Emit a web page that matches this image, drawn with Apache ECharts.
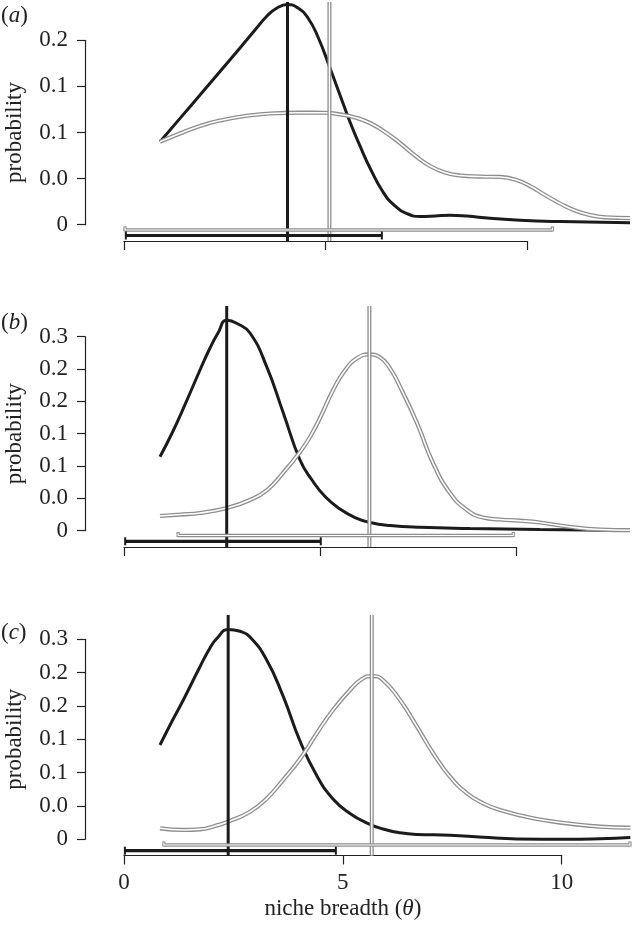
<!DOCTYPE html>
<html>
<head>
<meta charset="utf-8">
<script src="https://cdn.jsdelivr.net/npm/echarts@6/dist/echarts.min.js"></script>
<style>
html,body{margin:0;padding:0;background:#fff;}
#chart{width:632px;height:928px;}
</style>
</head>
<body>
<div id="chart"></div>
<script>
// ---------- data (x = niche breadth, y = probability) ----------
const panelLetters = ['a', 'b', 'c'];
const xTickLabels = ['0', '5', '10'];
const yTickLabelsA = ['0', '0.0', '0.1', '0.1', '0.2'];
const yTickLabelsBC = ['0', '0.0', '0.1', '0.1', '0.2', '0.2', '0.3'];

const blackA = [[0.898,0.0900],[1.394,0.1153],[1.890,0.1407],[2.386,0.1662],[2.882,0.1917],[3.254,0.2112],[3.552,0.2264],[3.800,0.2351],[4.060,0.2388],[4.320,0.2350],[4.568,0.2242],[4.816,0.2036],[5.114,0.1700],[5.362,0.1407],[5.610,0.1114],[5.858,0.0854],[6.106,0.0615],[6.429,0.0355],[6.726,0.0203],[7.049,0.0116],[7.347,0.0089],[7.719,0.0094],[8.091,0.0103],[8.512,0.0094],[9.082,0.0070],[9.826,0.0048],[10.818,0.0034],[12.554,0.0022]];
const grayA = [[0.898,0.0900],[1.394,0.0989],[1.890,0.1071],[2.386,0.1130],[3.006,0.1179],[3.626,0.1206],[4.370,0.1215],[4.990,0.1214],[5.362,0.1196],[5.734,0.1163],[6.106,0.1103],[6.478,0.1005],[6.850,0.0886],[7.222,0.0751],[7.594,0.0637],[7.966,0.0566],[8.338,0.0534],[8.834,0.0522],[9.330,0.0518],[9.702,0.0490],[10.074,0.0419],[10.446,0.0322],[10.818,0.0230],[11.190,0.0154],[11.562,0.0105],[11.934,0.0080],[12.554,0.0071]];
const meansA = [4.06, 5.10];                         // black, gray
const intervalsA = [[0.05, 6.40], [0.03, 10.63]];    // black, gray

const blackB = [[0.918,0.1144],[1.224,0.1507],[1.556,0.1949],[1.939,0.2485],[2.194,0.2825],[2.398,0.3057],[2.620,0.3255],[2.883,0.3204],[3.214,0.3057],[3.640,0.2536],[4.064,0.1820],[4.490,0.1093],[4.796,0.0784],[5.128,0.0529],[5.510,0.0336],[5.893,0.0204],[6.276,0.0127],[6.786,0.0080],[7.551,0.0052],[8.827,0.0034],[10.612,0.0019],[12.908,0.0003]];
const grayB = [[0.918,0.0227],[1.429,0.0250],[1.939,0.0274],[2.628,0.0351],[3.214,0.0475],[3.648,0.0629],[4.056,0.0892],[4.490,0.1217],[4.745,0.1449],[5.000,0.1743],[5.332,0.2171],[5.638,0.2481],[5.944,0.2666],[6.250,0.2725],[6.531,0.2681],[6.786,0.2510],[7.041,0.2227],[7.474,0.1665],[7.883,0.1047],[8.316,0.0583],[8.750,0.0320],[9.158,0.0204],[9.592,0.0173],[10.102,0.0155],[10.612,0.0127],[11.301,0.0065],[12.143,0.0018],[12.908,0.0008]];
const meansB = [2.62, 6.26];
const intervalsB = [[0.03, 5.02], [1.38, 9.93]];

const blackC = [[0.822,0.1414],[1.097,0.1770],[1.355,0.2090],[1.736,0.2589],[1.965,0.2870],[2.125,0.3015],[2.376,0.3147],[2.650,0.3120],[2.879,0.3035],[3.260,0.2689],[3.640,0.2139],[4.021,0.1474],[4.409,0.0950],[4.775,0.0604],[5.163,0.0387],[5.552,0.0244],[5.917,0.0154],[6.306,0.0097],[6.694,0.0072],[7.448,0.0062],[8.202,0.0030],[8.979,0.0005],[10.121,0.0000],[10.875,0.0009],[11.568,0.0027]];
const grayC = [[0.822,0.0165],[1.348,0.0140],[1.736,0.0150],[2.079,0.0200],[2.376,0.0264],[2.879,0.0414],[3.267,0.0615],[3.633,0.0889],[4.021,0.1204],[4.409,0.1594],[4.775,0.1939],[5.163,0.2239],[5.438,0.2404],[5.659,0.2449],[5.917,0.2389],[6.306,0.2089],[6.694,0.1689],[7.060,0.1294],[7.448,0.0939],[7.836,0.0690],[8.202,0.0540],[8.590,0.0439],[9.344,0.0315],[10.121,0.0240],[10.875,0.0189],[11.568,0.0174]];
const meansC = [2.38, 5.66];
const intervalsC = [[0.02, 4.84], [0.91, 11.56]];

// ---------- layout (pixels) ----------
const FONT = 'Liberation Serif';
const TXT = '#222';
const BLACK = '#1b1b1b';
const GRAY = '#8d8d8d';
const panels = [
  {black: blackA, gray: grayA, means: meansA, ints: intervalsA, yLabels: yTickLabelsA, yMaxTick: 0.2,
   left: 85, right: 632, top: 2, bottom: 241, x0: 123.8, xs: 40.32, y0: 224.7, ys: 922,
   offGray: 5.3, offBlack: 10.8, titleTop: 4.5, showX: false},
  {black: blackB, gray: grayB, means: meansB, ints: intervalsB, yLabels: yTickLabelsBC, yMaxTick: 0.3,
   left: 85, right: 632, top: 306, bottom: 547, x0: 124, xs: 39.2, y0: 530.7, ys: 646.7,
   offGray: 4.8, offBlack: 10.6, titleTop: 311.5, showX: false},
  {black: blackC, gray: grayC, means: meansC, ints: intervalsC, yLabels: yTickLabelsBC, yMaxTick: 0.3,
   left: 85, right: 632, top: 615, bottom: 855.5, x0: 124, xs: 43.77, y0: 839.3, ys: 666.7,
   offGray: 5.7, offBlack: 11.4, titleTop: 621.5, showX: true}
];

const grids = [], xAxes = [], yAxes = [], series = [], titles = [];
const axisLineStyle = {color: TXT, width: 1.2};
const SMOOTH = 0.5;

panels.forEach((p, i) => {
  // data grid (plot region)
  const dg = grids.length;
  grids.push({left: p.left, top: p.top, width: p.right - p.left, height: p.bottom - p.top});
  xAxes.push({gridIndex: dg, type: 'value', min: (p.left - p.x0) / p.xs, max: (p.right - p.x0) / p.xs, show: false});
  yAxes.push({gridIndex: dg, type: 'value', min: (p.y0 - p.bottom) / p.ys, max: (p.y0 - p.top) / p.ys, show: false});
  const ax = xAxes.length - 1, ay = yAxes.length - 1;

  // y axis display grid
  const yg = grids.length;
  const yTopPx = p.y0 - p.yMaxTick * p.ys;
  grids.push({left: p.left, top: yTopPx, width: 10, height: p.yMaxTick * p.ys});
  xAxes.push({gridIndex: yg, type: 'value', min: 0, max: 1, show: false});
  yAxes.push({gridIndex: yg, type: 'value', min: 0, max: p.yMaxTick, interval: 0.05,
    axisLine: {show: true, onZero: false, lineStyle: axisLineStyle},
    axisTick: {show: true, inside: false, length: 8, lineStyle: axisLineStyle},
    splitLine: {show: false},
    axisLabel: {show: true, margin: 17, fontFamily: FONT, fontSize: 23, color: TXT,
      formatter: v => p.yLabels[Math.round(v / 0.05)]},
    name: 'probability', nameLocation: 'middle', nameGap: 59,
    nameTextStyle: {fontFamily: FONT, fontSize: 23, color: TXT}
  });

  // x axis display grid
  const xg = grids.length;
  grids.push({left: p.x0, top: p.bottom - 10, width: 10 * p.xs, height: 10});
  const xAxisDef = {gridIndex: xg, type: 'value', min: 0, max: 10, interval: 5, position: 'bottom',
    axisLine: {show: true, onZero: false, lineStyle: axisLineStyle},
    axisTick: {show: true, inside: false, length: 9, lineStyle: axisLineStyle},
    splitLine: {show: false},
    axisLabel: {show: p.showX, margin: 16, fontFamily: FONT, fontSize: 23, color: TXT,
      formatter: v => xTickLabels[Math.round(v / 5)]}
  };
  if (p.showX) {
    xAxisDef.name = '{n|niche breadth (}{i|θ}{n|)}';
    xAxisDef.nameLocation = 'middle';
    xAxisDef.nameGap = 42;
    xAxisDef.nameTextStyle = {fontFamily: FONT, fontSize: 23, color: TXT,
      rich: {n: {fontFamily: FONT, fontSize: 23, color: TXT},
             i: {fontFamily: FONT, fontSize: 23, color: TXT, fontStyle: 'italic'}}};
  }
  xAxes.push(xAxisDef);
  yAxes.push({gridIndex: xg, type: 'value', min: 0, max: 1, show: false});

  // curves
  series.push({type: 'line', xAxisIndex: ax, yAxisIndex: ay, data: p.black, smooth: SMOOTH,
    showSymbol: false, symbol: 'none', z: 2, lineStyle: {color: BLACK, width: 3}, silent: true});
  series.push({type: 'line', xAxisIndex: ax, yAxisIndex: ay, data: p.gray, smooth: SMOOTH,
    showSymbol: false, symbol: 'none', z: 3, lineStyle: {color: GRAY, width: 4.2}, silent: true});
  series.push({type: 'line', xAxisIndex: ax, yAxisIndex: ay, data: p.gray, smooth: SMOOTH,
    showSymbol: false, symbol: 'none', z: 4, lineStyle: {color: '#fff', width: 1.6}, silent: true});

  // vertical mean lines
  const vline = (val, color, width, z) => ({
    type: 'custom', xAxisIndex: ax, yAxisIndex: ay, data: [[val]], encode: {x: 0}, z: z, silent: true,
    renderItem: (params, api) => {
      const x = api.coord([api.value(0), 0])[0];
      const cs = params.coordSys;
      return {type: 'line', shape: {x1: x, y1: cs.y, x2: x, y2: cs.y + cs.height},
        style: {stroke: color, lineWidth: width}};
    }
  });
  series.push(vline(p.means[0], BLACK, 3, 5));
  series.push(vline(p.means[1], GRAY, 4, 6));
  series.push(vline(p.means[1], '#fff', 1.4, 7));

  // interval bars
  series.push({type: 'custom', xAxisIndex: ax, yAxisIndex: ay, data: [p.ints[1]], encode: {x: [0, 1]}, z: 8, silent: true,
    renderItem: (params, api) => {
      const a = api.coord([api.value(0), 0]), b = api.coord([api.value(1), 0]);
      const y = a[1] + p.offGray;
      const mk = (x1, y1, x2, y2, c, w) => ({type: 'line', shape: {x1, y1, x2, y2}, style: {stroke: c, lineWidth: w}});
      return {type: 'group', children: [
        mk(a[0], y, b[0], y, GRAY, 3.4),
        mk(a[0], y - 3.6, a[0], y + 1.5, GRAY, 3.2),
        mk(b[0], y - 3.6, b[0], y + 1.5, GRAY, 3.2),
        mk(a[0], y, b[0], y, '#fff', 1.2),
        mk(a[0], y - 2.6, a[0], y + 0.5, '#fff', 1.1),
        mk(b[0], y - 2.6, b[0], y + 0.5, '#fff', 1.1)
      ]};
    }
  });
  series.push({type: 'custom', xAxisIndex: ax, yAxisIndex: ay, data: [p.ints[0]], encode: {x: [0, 1]}, z: 9, silent: true,
    renderItem: (params, api) => {
      const a = api.coord([api.value(0), 0]), b = api.coord([api.value(1), 0]);
      const y = a[1] + p.offBlack;
      const mk = (x1, y1, x2, y2, c, w) => ({type: 'line', shape: {x1, y1, x2, y2}, style: {stroke: c, lineWidth: w}});
      return {type: 'group', children: [
        mk(a[0], y, b[0], y, BLACK, 3.2),
        mk(a[0], y - 4, a[0], y + 4, BLACK, 2),
        mk(b[0], y - 4, b[0], y + 4, BLACK, 2)
      ]};
    }
  });

  titles.push({text: '{n|(}{i|' + panelLetters[i] + '}{n|)}', left: 1, top: p.titleTop, padding: 0,
    textStyle: {fontWeight: 'normal', fontFamily: FONT, fontSize: 23, color: TXT,
      rich: {n: {fontFamily: FONT, fontSize: 23, color: TXT, fontWeight: 'normal'},
             i: {fontFamily: FONT, fontSize: 23, color: TXT, fontStyle: 'italic', fontWeight: 'normal'}}}});
});

const chart = echarts.init(document.getElementById('chart'), null, {renderer: 'canvas'});
chart.setOption({
  animation: false,
  backgroundColor: '#fff',
  title: titles,
  grid: grids,
  xAxis: xAxes,
  yAxis: yAxes,
  series: series
});
</script>
</body>
</html>
